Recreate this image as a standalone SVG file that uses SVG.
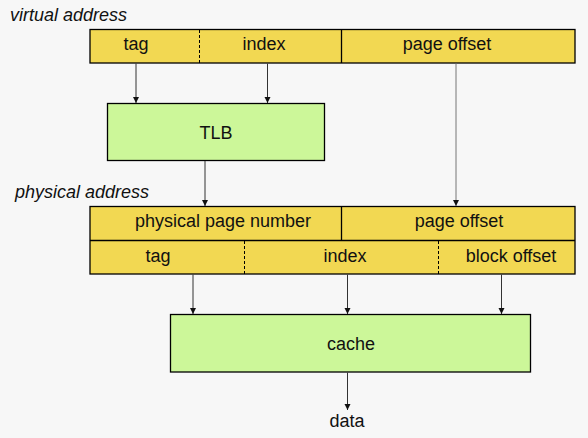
<svg xmlns="http://www.w3.org/2000/svg" width="588" height="438" viewBox="0 0 588 438">
<style>
text{font-family:"Liberation Sans",Arial,sans-serif;font-size:18px;fill:#111;}
.c{text-anchor:middle}
.i{font-style:italic}
.y{fill:#f2d852;stroke:#000;stroke-width:1.3}
.g{fill:#ccf799;stroke:#000;stroke-width:1.3}
.d{stroke:#000;stroke-width:1;stroke-dasharray:3,2}
.s{stroke:#000;stroke-width:1.3}
.a{stroke:#333;stroke-width:1;fill:none;marker-end:url(#ah)}
</style>
<defs>
<marker id="ah" markerWidth="8" markerHeight="8" refX="6" refY="3" orient="auto" markerUnits="userSpaceOnUse">
<path d="M0,0 L6,3 L0,6 Z" fill="#111"/>
</marker>
</defs>
<rect width="588" height="438" fill="#f7f7f7"/>
<text class="i" x="10" y="21">virtual address</text>
<g id="vaddr">
<rect class="y" x="90" y="29.5" width="485" height="33.5"/>
<line class="d" x1="199.5" y1="30" x2="199.5" y2="63"/>
<line class="s" x1="341.5" y1="29.5" x2="341.5" y2="63"/>
<text class="c" x="136" y="50">tag</text>
<text class="c" x="264" y="50">index</text>
<text class="c" x="447" y="50">page offset</text>
</g>
<g id="tlb">
<rect class="g" x="107.5" y="103.5" width="217" height="57"/>
<text class="c" x="216" y="139">TLB</text>
</g>
<text class="i" x="15" y="198">physical address</text>
<g id="paddr">
<rect class="y" x="90" y="206.5" width="485" height="67.5"/>
<line class="s" x1="90" y1="240.5" x2="575" y2="240.5"/>
<line class="s" x1="341.5" y1="206.5" x2="341.5" y2="240.5"/>
<line class="d" x1="244.5" y1="241" x2="244.5" y2="274"/>
<line class="d" x1="438.5" y1="241" x2="438.5" y2="274"/>
<text class="c" x="223" y="227">physical page number</text>
<text class="c" x="459" y="227">page offset</text>
<text class="c" x="158" y="262">tag</text>
<text class="c" x="345" y="262">index</text>
<text class="c" x="511" y="262">block offset</text>
</g>
<g id="cache">
<rect class="g" x="170.5" y="314.5" width="360" height="57.5"/>
<text class="c" x="351" y="350">cache</text>
</g>
<g id="data">
<text class="c" x="347" y="427">data</text>
</g>
<g id="connectors">
<line class="a" x1="136" y1="63.5" x2="136" y2="103"/>
<line class="a" x1="267.5" y1="63.5" x2="267.5" y2="103"/>
<line class="a" x1="205" y1="161" x2="205" y2="206"/>
<line class="a" x1="456" y1="63.5" x2="456" y2="206" style="stroke:#777"/>
<line class="a" x1="193" y1="274.5" x2="193" y2="314"/>
<line class="a" x1="347.5" y1="274.5" x2="347.5" y2="314"/>
<line class="a" x1="501.5" y1="274.5" x2="501.5" y2="314"/>
<line class="a" x1="347.5" y1="372.5" x2="347.5" y2="410"/>
</g>
</svg>
